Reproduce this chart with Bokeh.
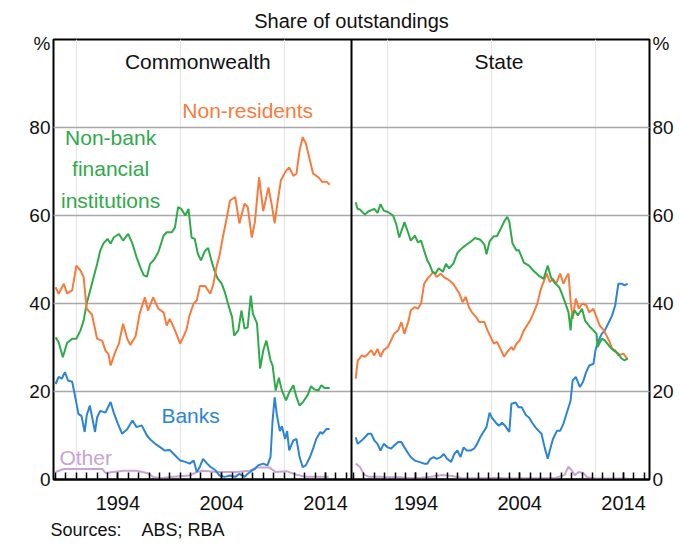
from bokeh.plotting import figure
from bokeh.models import Range1d, LinearAxis, FixedTicker, Span, Label, Grid, Title
from bokeh.embed import file_html
from bokeh.resources import INLINE

# ---------------- data ----------------
cw_nr_x = [1988.0, 1988.3, 1988.8, 1989.1, 1989.6, 1990.0, 1990.4, 1990.7, 1991.0, 1991.5, 1992.0, 1992.5,
           1992.8, 1993.1, 1993.3, 1993.75, 1994.1, 1994.5, 1994.9, 1995.2, 1995.7, 1996.1, 1996.6, 1996.9,
           1997.4, 1997.9, 1998.4, 1998.7, 1999.0, 1999.5, 2000.0, 2000.3, 2000.6, 2000.9, 2001.3, 2001.6,
           2001.9, 2002.4, 2002.9, 2003.2, 2003.5, 2003.8, 2004.1, 2004.5, 2004.8, 2005.3, 2005.7, 2006.2,
           2006.5, 2006.9, 2007.2, 2007.6, 2008.0, 2008.5, 2008.8, 2009.1, 2009.4, 2009.7, 2010.2, 2010.5,
           2010.9, 2011.2, 2011.5, 2011.8, 2012.1, 2012.5, 2012.8, 2013.3, 2013.7, 2014.1, 2014.4]
cw_nr_y = [43.7, 42.2, 44.5, 42.3, 43.0, 48.6, 47.5, 46.0, 38.8, 37.5, 32.0, 31.5,
           29.3, 28.5, 25.9, 29.0, 30.9, 35.4, 32.0, 30.6, 32.5, 37.7, 41.4, 38.4,
           41.4, 38.8, 38.0, 35.0, 36.5, 33.9, 30.9, 32.4, 34.0, 37.3, 40.0, 40.7,
           44.0, 44.0, 42.2, 44.5, 48.3, 51.0, 55.0, 59.6, 63.4, 64.2, 58.2, 62.7,
           62.0, 55.0, 58.6, 68.7, 61.0, 66.4, 62.7, 58.2, 63.4, 68.0, 70.2, 70.9,
           69.0, 69.5, 74.8, 77.8, 76.4, 72.5, 69.5, 68.7, 67.6, 67.7, 67.0]

cw_nb_x = [1988.0, 1988.3, 1988.7, 1989.1, 1989.6, 1990.0, 1990.4, 1990.7, 1991.0, 1991.5, 1992.0, 1992.3,
           1992.6, 1993.0, 1993.3, 1993.6, 1994.1, 1994.5, 1995.0, 1995.4, 1995.8, 1996.2, 1996.5, 1996.8,
           1997.1, 1997.5, 1997.9, 1998.4, 1998.7, 1999.2, 1999.5, 1999.8, 2000.1, 2000.5, 2000.8, 2001.1,
           2001.4, 2001.7, 2002.0, 2002.4, 2002.7, 2003.0, 2003.3, 2003.6, 2004.0, 2004.3, 2004.6, 2005.0,
           2005.2, 2005.6, 2005.9, 2006.2, 2006.5, 2006.8, 2007.0, 2007.4, 2007.7, 2008.0, 2008.3, 2008.7,
           2008.9, 2009.2, 2009.5, 2009.8, 2010.2, 2010.5, 2010.9, 2011.2, 2011.5, 2011.8, 2012.3, 2012.6,
           2012.9, 2013.3, 2013.6, 2013.9, 2014.4]
cw_nb_y = [32.3, 31.2, 27.8, 31.0, 32.0, 32.0, 33.9, 36.1, 40.0, 44.5, 49.0, 52.0,
           53.6, 54.7, 53.6, 55.0, 55.8, 54.3, 55.8, 53.6, 50.5, 48.0, 46.4, 46.1,
           49.0, 50.0, 51.7, 55.4, 56.2, 56.2, 57.3, 61.9, 61.5, 60.0, 61.5, 55.0,
           54.7, 51.3, 49.8, 52.0, 52.6, 49.8, 47.5, 45.7, 44.5, 42.6, 40.0, 36.9,
           32.7, 33.9, 38.4, 34.3, 34.6, 41.8, 37.7, 35.5, 25.2, 29.3, 31.6, 27.1,
           25.9, 20.2, 23.1, 20.2, 18.0, 19.8, 21.4, 18.7, 16.8, 17.5, 19.3, 21.2,
           20.5, 20.2, 21.4, 20.8, 20.8]

cw_bk_x = [1988.0, 1988.3, 1988.6, 1988.9, 1989.2, 1989.6, 1989.9, 1990.2, 1990.5, 1990.8, 1991.0, 1991.3,
           1991.5, 1991.8, 1992.0, 1992.3, 1992.8, 1993.3, 1993.6, 1994.0, 1994.4, 1994.9, 1995.4, 1995.8,
           1996.3, 1996.8, 1997.2, 1997.6, 1998.1, 1998.5, 1999.0, 1999.5, 2000.0, 2000.5, 2000.9, 2001.3,
           2001.6, 2001.9, 2002.2, 2002.6, 2002.9, 2003.4, 2003.8, 2004.3, 2004.8, 2005.3, 2005.7, 2006.2,
           2006.5, 2006.9, 2007.2, 2007.5, 2008.0, 2008.4, 2008.7, 2008.9, 2009.1, 2009.3, 2009.6, 2009.8,
           2010.1, 2010.3, 2010.5, 2010.9, 2011.2, 2011.5, 2011.8, 2012.1, 2012.5, 2012.8, 2013.1, 2013.5,
           2013.7, 2014.1, 2014.4]
cw_bk_y = [21.7, 23.3, 22.9, 24.4, 22.5, 22.2, 18.7, 14.9, 14.4, 10.8, 14.6, 16.8,
           14.4, 10.8, 14.1, 15.6, 15.2, 17.6, 15.2, 12.7, 10.4, 11.4, 13.4, 11.9,
           12.3, 10.0, 8.9, 8.1, 7.3, 6.6, 6.7, 5.5, 4.3, 4.0, 3.6, 4.3,
           1.7, 2.9, 4.7, 3.6, 2.9, 2.1, 0.9, 0.6, 0.9, 0.6, 1.3, 0.6,
           1.3, 2.0, 2.4, 3.2, 3.6, 3.2, 5.1, 13.4, 18.7, 14.9, 11.0, 12.1,
           9.2, 11.0, 6.6, 8.9, 9.2, 5.1, 2.8, 3.2, 5.1, 7.0, 9.2, 10.8,
           10.4, 11.5, 11.5]

cw_ot_x = [1988.0, 1988.8, 1992.5, 1992.8, 1994.5, 1995.8, 1996.8, 1997.4, 1998.1, 1999.3, 2000.9, 2001.6,
           2002.2, 2003.5, 2005.4, 2006.7, 2007.3, 2008.6, 2009.2, 2010.2, 2011.2, 2012.1, 2014.3]
cw_ot_y = [1.7, 2.4, 2.4, 1.5, 2.0, 2.0, 1.5, 0.6, 0.3, 0.6, 0.9, 1.7,
           2.0, 1.7, 1.7, 2.0, 2.7, 2.7, 1.7, 1.9, 1.1, 0.6, 0.6]

st_nb_x = [1988.2, 1988.4, 1988.6, 1988.8, 1989.1, 1989.4, 1990.0, 1990.3, 1990.6, 1990.9, 1991.3, 1991.8,
           1992.1, 1992.4, 1992.9, 1993.3, 1993.5, 1993.9, 1994.2, 1994.5, 1994.8, 1995.1, 1995.3, 1995.6,
           1995.9, 1996.2, 1996.6, 1996.9, 1997.2, 1997.6, 1998.0, 1998.2, 1998.5, 1998.9, 1999.3, 1999.7,
           2000.2, 2000.6, 2000.8, 2001.1, 2001.5, 2001.8, 2002.2, 2002.5, 2002.8, 2003.0, 2003.3, 2003.7,
           2003.9, 2004.2, 2004.4, 2004.9, 2005.3, 2005.8, 2006.3, 2006.7, 2007.0, 2007.3, 2007.8, 2008.0,
           2008.3, 2008.7, 2008.9, 2009.0, 2009.3, 2009.6, 2010.0, 2010.3, 2010.8, 2011.1, 2011.4, 2011.5,
           2011.9, 2012.2, 2012.7, 2013.0, 2013.5, 2013.8, 2014.1, 2014.4]
st_nb_y = [63.0, 61.4, 61.4, 60.9, 60.2, 60.9, 61.5, 60.6, 62.6, 61.1, 60.8, 60.0,
           58.1, 55.0, 58.5, 55.8, 54.3, 55.4, 53.9, 54.3, 52.0, 49.8, 49.0, 47.2,
           46.8, 48.0, 47.2, 49.0, 48.0, 49.0, 51.5, 52.0, 52.7, 53.4, 54.1, 54.9,
           54.5, 53.4, 51.2, 54.1, 55.3, 55.3, 57.1, 58.6, 59.7, 58.6, 53.7, 52.0,
           52.2, 50.5, 49.3, 48.6, 47.5, 46.4, 45.6, 48.6, 46.0, 44.9, 43.7, 42.6,
           40.7, 38.0, 33.9, 36.9, 38.4, 37.3, 38.8, 36.1, 34.6, 33.9, 33.1, 30.1,
           32.0, 31.6, 30.1, 29.4, 28.6, 27.5, 27.1, 27.5]

st_nr_x = [1988.2, 1988.4, 1988.8, 1989.1, 1989.4, 1989.7, 1990.0, 1990.3, 1990.6, 1990.9, 1991.3, 1991.6,
           1991.9, 1992.3, 1992.6, 1992.9, 1993.3, 1993.5, 1993.9, 1994.2, 1994.5, 1994.8, 1995.1, 1995.4,
           1995.7, 1996.0, 1996.4, 1996.7, 1997.2, 1997.6, 1998.2, 1998.5, 1998.8, 1999.1, 1999.4, 1999.8,
           2000.1, 2000.6, 2000.9, 2001.2, 2001.5, 2001.8, 2002.2, 2002.5, 2002.8, 2003.2, 2003.4, 2003.7,
           2004.0, 2004.4, 2004.7, 2005.0, 2005.3, 2005.7, 2006.0, 2006.3, 2006.6, 2006.9, 2007.2, 2007.5,
           2007.9, 2008.2, 2008.5, 2008.7, 2008.9, 2009.1, 2009.4, 2009.7, 2010.0, 2010.4, 2010.7, 2011.1,
           2011.4, 2011.7, 2012.1, 2012.6, 2012.9, 2013.2, 2013.5, 2014.0, 2014.2, 2014.4]
st_nr_y = [22.9, 27.0, 28.2, 27.9, 28.6, 29.4, 28.2, 29.7, 27.9, 29.4, 30.1, 31.6,
           33.1, 33.9, 35.8, 33.1, 36.1, 38.4, 39.2, 38.8, 40.0, 44.5, 45.6, 46.4,
           47.2, 46.0, 46.8, 46.0, 45.3, 44.5, 42.2, 40.3, 41.5, 39.2, 38.0, 36.9,
           35.8, 35.8, 33.9, 32.4, 30.9, 31.3, 29.4, 27.9, 29.0, 30.1, 29.4, 30.9,
           31.6, 33.9, 35.0, 36.1, 37.7, 40.0, 43.0, 44.9, 46.8, 44.9, 45.6, 44.5,
           46.8, 44.5, 46.0, 46.8, 40.7, 36.5, 41.1, 38.8, 40.0, 39.6, 38.0, 38.8,
           36.9, 35.0, 33.9, 31.6, 29.7, 29.4, 28.2, 28.6, 27.9, 27.3]

st_bk_x = [1988.2, 1988.4, 1988.8, 1989.1, 1989.4, 1989.7, 1990.0, 1990.3, 1990.6, 1990.9, 1991.3, 1991.6,
           1991.9, 1992.3, 1992.6, 1992.9, 1993.3, 1993.5, 1993.9, 1994.3, 1994.8, 1995.1, 1995.4, 1995.7,
           1996.0, 1996.4, 1996.7, 1997.0, 1997.4, 1997.7, 1998.0, 1998.3, 1998.6, 1998.9, 1999.3, 1999.6,
           1999.9, 2000.2, 2000.5, 2000.8, 2001.1, 2001.3, 2001.7, 2002.0, 2002.3, 2002.6, 2003.0, 2003.2,
           2003.6, 2003.9, 2004.2, 2004.6, 2004.9, 2005.2, 2005.5, 2005.8, 2006.1, 2006.4, 2006.7, 2006.9,
           2007.2, 2007.6, 2007.9, 2008.2, 2008.5, 2008.9, 2009.1, 2009.4, 2009.8, 2010.1, 2010.4, 2010.7,
           2011.1, 2011.3, 2011.6, 2011.9, 2012.2, 2012.6, 2012.9, 2013.2, 2013.5, 2013.8, 2014.1, 2014.4]
st_bk_y = [9.6, 8.1, 8.9, 9.6, 10.4, 10.4, 8.9, 8.1, 6.6, 8.1, 7.3, 7.0,
           7.7, 8.5, 8.5, 7.3, 5.8, 5.1, 4.3, 4.0, 3.6, 3.6, 4.7, 5.1,
           4.7, 5.1, 5.8, 4.7, 4.0, 5.8, 6.6, 5.1, 7.3, 6.6, 6.6, 7.0,
           8.1, 9.6, 10.8, 11.9, 15.2, 14.1, 12.9, 12.2, 12.9, 12.2, 10.8, 17.2,
           17.5, 16.4, 16.4, 14.6, 14.1, 12.9, 11.9, 11.1, 10.4, 7.3, 4.7, 6.6,
           9.2, 11.1, 11.1, 12.6, 14.9, 17.9, 22.5, 23.3, 21.0, 22.2, 24.4, 25.9,
           26.3, 29.4, 31.6, 33.1, 33.9, 35.8, 37.3, 39.6, 44.5, 44.5, 44.1, 44.5]

st_ot_x = [1988.2, 1988.6, 1989.0, 1989.5, 1990.5, 1991.5, 1992.5, 1993.5, 1994.5, 1995.5, 1996.5, 1997.5,
           1998.5, 1999.5, 2000.5, 2001.5, 2002.5, 2003.5, 2004.5, 2005.5, 2006.5, 2007.5, 2008.3, 2008.7,
           2009.0, 2009.3, 2009.7, 2010.1, 2010.5, 2011.5, 2012.5, 2013.5, 2014.4]
st_ot_y = [3.6, 2.9, 1.1, 0.6, 0.6, 0.5, 0.5, 0.3, 0.4, 0.6, 1.0, 0.8,
           0.3, 0.3, 0.3, 0.4, 0.3, 0.3, 0.3, 0.3, 0.3, 0.4, 1.0, 2.9,
           2.1, 1.0, 1.7, 1.5, 0.5, 0.2, 0.2, 0.2, 0.2]

y_ticks = [0, 20, 40, 60, 80]
grid_ticks = [20, 40, 60, 80]
unit_tick = 99.1          # where the "%" unit marker sits on each y axis
year_labels = [1994, 2004, 2014]
years = list(range(1988, 2017))

# ---------------- styling ----------------
FONT = "Liberation Sans"
ORANGE = "#F77B3C"
GREEN = "#2EAA4A"
BLUE = "#2B84D8"
PURPLE = "#C9A3D6"
TXT = "#111111"

X0, X1 = 1987.8, 2016.5          # each panel's year span
SPAN = X1 - X0

p = figure(width=676, height=546, output_backend="svg", toolbar_location=None,
           x_range=Range1d(X0, X1 + SPAN), y_range=Range1d(0, 100),
           x_axis_location=None, y_axis_location=None,
           min_border_left=53, min_border_right=24, min_border_top=39, min_border_bottom=67)
p.extra_x_ranges = {"state": Range1d(X0 - SPAN, X1)}
p.outline_line_color = "black"
p.outline_line_width = 2
p.background_fill_color = "white"
p.border_fill_color = "white"

p.add_layout(Grid(dimension=1, ticker=FixedTicker(ticks=grid_ticks),
                  grid_line_color="#A8A8A8", grid_line_width=1.5))

for side in ("left", "right"):
    ax = LinearAxis(ticker=FixedTicker(ticks=y_ticks + [unit_tick]), axis_line_color=None,
                    major_label_overrides={unit_tick: "%"},
                    major_tick_in=0, major_tick_out=0, minor_tick_in=0, minor_tick_out=0,
                    major_label_standoff=3, major_label_text_font=FONT,
                    major_label_text_font_size="19px", major_label_text_color=TXT)
    p.add_layout(ax, side)

right_major = [round(y + SPAN, 6) for y in year_labels]
minor = [y for y in years] + [round(y + SPAN, 6) for y in years]
xax = LinearAxis(ticker=FixedTicker(ticks=year_labels + right_major, minor_ticks=minor),
                 major_label_overrides={**{k: str(v) for k, v in zip(right_major, year_labels)},
                                        **{v: str(v) for v in year_labels}},
                 axis_line_color="black", axis_line_width=2,
                 major_tick_in=7, major_tick_out=0, minor_tick_in=7, minor_tick_out=0,
                 major_tick_line_color="black", minor_tick_line_color="black",
                 major_tick_line_width=1.5, minor_tick_line_width=1.5,
                 major_label_standoff=16, major_label_text_font=FONT,
                 major_label_text_font_size="20px", major_label_text_color=TXT)
p.add_layout(xax, "below")

p.add_layout(Title(text="Share of outstandings", align="center", text_font=FONT,
                   text_font_size="20px", text_font_style="normal", text_color=TXT,
                   standoff=15), "above")
p.add_layout(Title(text="Sources:\u00a0\u00a0\u00a0\u00a0ABS; RBA", align="left", text_font=FONT,
                   text_font_size="18px", text_font_style="normal", text_color=TXT,
                   standoff=11, offset=-3), "below")

p.add_layout(Span(location=X1, dimension="height", line_color="black", line_width=2))

# Commonwealth panel
p.line(cw_ot_x, cw_ot_y, line_color=PURPLE, line_width=2)
p.line(cw_bk_x, cw_bk_y, line_color=BLUE, line_width=2)
p.line(cw_nb_x, cw_nb_y, line_color=GREEN, line_width=2)
p.line(cw_nr_x, cw_nr_y, line_color=ORANGE, line_width=2)
# State panel
p.line(st_ot_x, st_ot_y, line_color=PURPLE, line_width=2, x_range_name="state")
p.line(st_bk_x, st_bk_y, line_color=BLUE, line_width=2, x_range_name="state")
p.line(st_nr_x, st_nr_y, line_color=ORANGE, line_width=2, x_range_name="state")
p.line(st_nb_x, st_nb_y, line_color=GREEN, line_width=2, x_range_name="state")


def lab(x, y, text, color=TXT, size="21px", align="center"):
    p.add_layout(Label(x=x, y=y, text=text, text_align=align, text_baseline="middle",
                       text_font=FONT, text_font_size=size, text_color=color))


lab(2001.7, 95.0, "Commonwealth")
lab(2030.7, 95.0, "State")
lab(2006.5, 83.9, "Non-residents", ORANGE)
lab(1993.3, 77.7, "Non-bank", GREEN)
lab(1993.3, 70.7, "financial", GREEN)
lab(1993.3, 63.4, "institutions", GREEN)
lab(2001.0, 14.5, "Banks", BLUE)
lab(1990.9, 5.0, "Other", PURPLE)

open("out.html", "w").write(file_html(p, INLINE))
